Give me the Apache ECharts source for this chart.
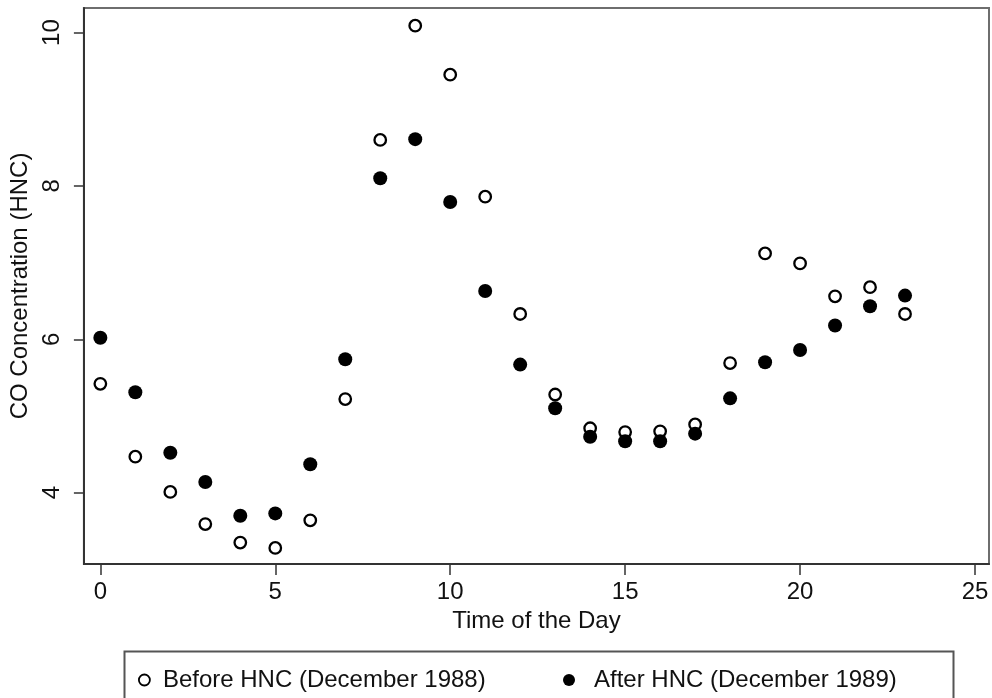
<!DOCTYPE html>
<html style="height: 100%">
<head>
    <meta charset="utf-8">
    <script src="https://cdn.jsdelivr.net/npm/echarts@6/dist/echarts.min.js"></script>
    <title>CO Concentration</title>
</head>
<body style="height: 100%; margin: 0; background: #fff">
<div id="container" style="width: 992px; height: 698px"></div>
<script type="text/javascript">
// hour of day
let hours = [0, 1, 2, 3, 4, 5, 6, 7, 8, 9, 10, 11, 12, 13, 14, 15, 16, 17, 18, 19, 20, 21, 22, 23]
// Before HNC (December 1988)
let before = [5.42, 4.47, 4.01, 3.59, 3.35, 3.28, 3.64, 5.22, 8.60, 10.09, 9.45, 7.86,
              6.33, 5.28, 4.84, 4.79, 4.80, 4.89, 5.69, 7.12, 6.99, 6.56, 6.68, 6.33]
// After HNC (December 1989)
let after = [6.02, 5.31, 4.52, 4.14, 3.70, 3.73, 4.37, 5.74, 8.10, 8.61, 7.79, 6.63,
             5.67, 5.10, 4.73, 4.67, 4.67, 4.77, 5.23, 5.70, 5.86, 6.18, 6.43, 6.57]
let xTicks = [0, 5, 10, 15, 20, 25]
let yTicks = [4, 6, 8, 10]

let font = 'Liberation Sans, Arial, sans-serif'
let ink = '#111'

let chart = echarts.init(document.getElementById('container'))

chart.setOption({
    backgroundColor: '#fff',
    animation: false,
    grid: {
        left: 83, right: 3, top: 8, bottom: 134,
        show: true,
        borderColor: '#6e6e6e',
        borderWidth: 2
    },
    xAxis: {
        type: 'value',
        min: -0.47,
        max: 25.4,
        name: 'Time of the Day',
        nameLocation: 'middle',
        nameGap: 44,
        nameTextStyle: {fontFamily: font, fontSize: 24, color: ink},
        axisLine: {onZero: false, lineStyle: {color: '#333', width: 2}},
        axisTick: {show: true, inside: false, length: 11, customValues: xTicks, lineStyle: {color: '#333', width: 1.5}},
        axisLabel: {customValues: xTicks, margin: 16, fontFamily: font, fontSize: 24, color: ink},
        splitLine: {show: false}
    },
    yAxis: {
        type: 'value',
        min: 3.07,
        max: 10.32,
        name: 'CO Concentration (HNC)',
        nameLocation: 'middle',
        nameGap: 50,
        nameRotate: 90,
        nameTextStyle: {fontFamily: font, fontSize: 24, color: ink},
        axisLine: {show: true, onZero: false, lineStyle: {color: '#333', width: 2}},
        axisTick: {show: true, inside: false, length: 10, customValues: yTicks, lineStyle: {color: '#333', width: 1.5}},
        axisLabel: {customValues: yTicks, rotate: 90, margin: 20, fontFamily: font, fontSize: 24, color: ink},
        splitLine: {show: false}
    },
    graphic: [{
        type: 'rect',
        left: 122, top: 649,
        shape: {width: 829, height: 60},
        style: {fill: 'none', stroke: '#555', lineWidth: 2},
        z: 0
    }],
    legend: [{
        data: ['Before HNC (December 1988)'],
        left: 133, top: 663,
        icon: 'circle',
        itemWidth: 11, itemHeight: 11,
        itemStyle: {borderWidth: 1.8},
        textStyle: {fontFamily: font, fontSize: 24, color: ink, padding: [0, 0, 0, 8]}
    }, {
        data: ['After HNC (December 1989)'],
        left: 558, top: 663,
        icon: 'circle',
        itemWidth: 12, itemHeight: 12,
        textStyle: {fontFamily: font, fontSize: 24, color: ink, padding: [0, 0, 0, 14]}
    }],
    series: [{
        name: 'Before HNC (December 1988)',
        type: 'scatter',
        symbol: 'circle',
        symbolSize: 11.5,
        itemStyle: {color: '#fff', borderColor: '#000', borderWidth: 2.3, opacity: 1},
        data: hours.map((h, i) => [h, before[i]]),
        z: 3
    }, {
        name: 'After HNC (December 1989)',
        type: 'scatter',
        symbol: 'circle',
        symbolSize: 14,
        itemStyle: {color: '#000', opacity: 1},
        data: hours.map((h, i) => [h, after[i]]),
        z: 4
    }]
}, true)
</script>
</body>
</html>
